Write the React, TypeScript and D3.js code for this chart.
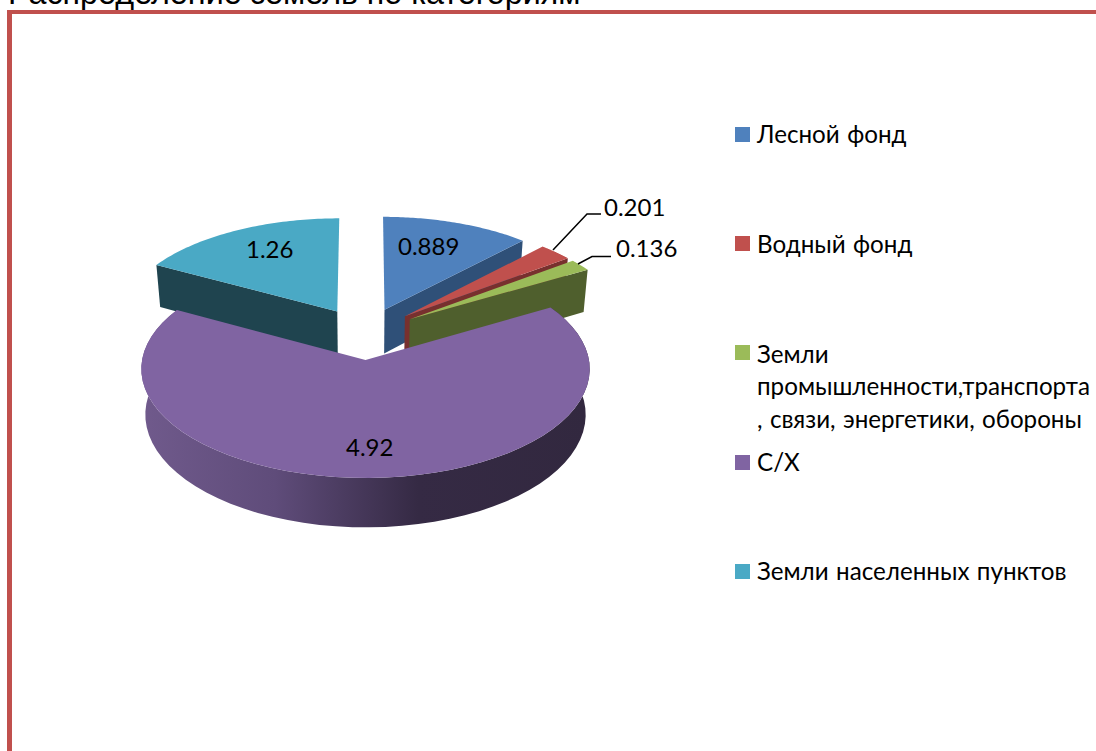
import React from "react";
import * as d3 from "d3";

const categories = ["Лесной фонд", "Водный фонд", "Земли промышленности,транспорта, связи, энергетики, обороны", "С/Х", "Земли населенных пунктов"];
const values = [0.889, 0.201, 0.136, 4.92, 1.26];
const valueLabels = ["0.889", "0.201", "0.136", "4.92", "1.26"];
const topColors = ["#4f81bd", "#c0504d", "#9bbb59", "#8064a2", "#4aa9c5"];
const wallColors = ["#2f5078", "#78302e", "#4f5f2d", "#4a3a60", "#1f444f"];
const legendLines = [["Лесной фонд"], ["Водный фонд"], ["Земли", "промышленности,транспорта", ", связи, энергетики, обороны"], ["С/Х"], ["Земли населенных пунктов"]];
const legendMarkerTops = [127, 236, 345, 455, 564];
const legendBaselines = [143, 252.5, 363, 471, 579.5];
const title = "Распределение земель по категориям";

const FONT = "Lato, 'Open Sans', sans-serif";
const cx = 364.7, cy = 333.5, R = 219, K = 104, P = 0.08, E = 0.25, H = 44.5, BOTTOM_SHRINK = 0.018;

function proj(X: number, Y: number, down = 0): [number, number] {
  const s = 1 / (1 + P * Y);
  return [cx + R * X * s * (1 - BOTTOM_SHRINK * down), cy - K * Y * s + H * down * s];
}

const arcs = d3.pie<number>().sort(null)(values);

function sliceGeom(i: number) {
  const a = arcs[i];
  const mid = (a.startAngle + a.endAngle) / 2;
  const ox = E * Math.sin(mid), oy = E * Math.cos(mid);
  const at = (t: number, r = 1, down = 0) => proj(ox + r * Math.sin(t), oy + r * Math.cos(t), down);
  const angles = d3.range(0, 61).map((k) => a.startAngle + ((a.endAngle - a.startAngle) * k) / 60);
  const line = d3.line();
  const top = line([proj(ox, oy), ...angles.map((t) => at(t))])! + "Z";
  const wall = (t: number) => line([proj(ox, oy), at(t), at(t, 1, 1), proj(ox, oy, 1)])! + "Z";
  const side = line([...angles.map((t) => at(t)), ...angles.slice().reverse().map((t) => at(t, 1, 1))])! + "Z";
  return { top, wall, side, a, at };
}

export default function App() {
  const g = values.map((_, i) => sliceGeom(i));
  return (
    <svg width={1096} height={751} style={{ position: "fixed", left: 0, top: 0, background: "#fff" }}>
      <defs>
        <linearGradient id="side" gradientUnits="userSpaceOnUse" x1={141} x2={588} y1={0} y2={0}>
          <stop offset="0" stopColor="#705a8c" />
          <stop offset="0.3" stopColor="#5f4c7a" />
          <stop offset="0.62" stopColor="#352a44" />
          <stop offset="1" stopColor="#32283f" />
        </linearGradient>
      </defs>
      <text x={8} y={4} fontFamily="'Liberation Sans', Arial, sans-serif" fontSize={32.3} fill="#000">{title}</text>
      <rect x={7} y={10} width={5} height={741} fill="#c0504d" />
      <rect x={7} y={10} width={1089} height={4} fill="#c0504d" />

      {/* Teal slice */}
      <path d={g[4].wall(g[4].a.startAngle)} fill={wallColors[4]} />
      <path d={g[4].top} fill={topColors[4]} />
      {/* Blue, red, green slices */}
      {[0, 1, 2].map((i) => (
        <g key={i}>
          <path d={g[i].wall(g[i].a.endAngle)} fill={wallColors[i]} />
          <path d={g[i].top} fill={topColors[i]} />
        </g>
      ))}
      {/* Purple slice */}
      <path d={g[3].side} fill="url(#side)" />
      <path d={g[3].top} fill={topColors[3]} />

      <polyline points="553,250 587,214 601,214" fill="none" stroke="#000" strokeWidth={1.5} />
      <polyline points="578,264 592,256.5 611,256.5" fill="none" stroke="#000" strokeWidth={1.5} />
      <g fontFamily={FONT} fontSize={24} fill="#000">
        <text x={398} y={255}>{valueLabels[0]}</text>
        <text x={604} y={216}>{valueLabels[1]}</text>
        <text x={616} y={257}>{valueLabels[2]}</text>
        <text x={346} y={456}>{valueLabels[3]}</text>
        <text x={246} y={258}>{valueLabels[4]}</text>
      </g>
      {categories.map((c, i) => (
        <g key={c}>
          <rect x={735} y={legendMarkerTops[i]} width={15} height={15} fill={topColors[i]} />
          <text fontFamily={FONT} fontSize={24.2} wordSpacing={1.2} fill="#000">
            {legendLines[i].map((l, j) => (
              <tspan key={j} x={757} y={legendBaselines[i] + j * 32.3}>{l}</tspan>
            ))}
          </text>
        </g>
      ))}
    </svg>
  );
}
